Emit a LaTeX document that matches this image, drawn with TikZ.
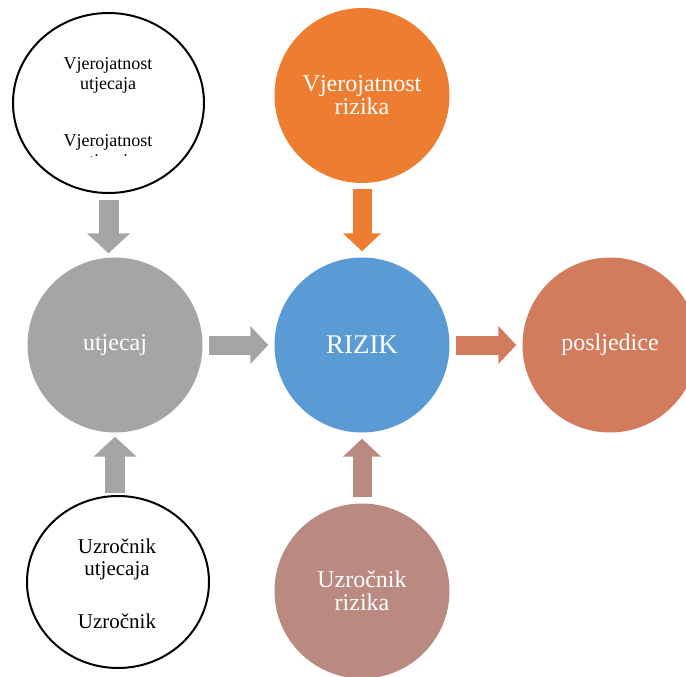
\documentclass[tikz,border=0pt]{standalone}
\usepackage{fontspec}
\setmainfont{Liberation Serif}
\usetikzlibrary{arrows.meta,shapes.geometric}

\definecolor{narancasta}{HTML}{ED7D31}
\definecolor{plava}{HTML}{5B9BD5}
\definecolor{siva}{HTML}{A5A5A5}
\definecolor{ciglasta}{HTML}{D37B5D}
\definecolor{ruzicasta}{HTML}{BA8A81}

\tikzset{
  krug/.style={circle, minimum size=175pt, inner sep=0pt, text=white,
    align=center, font=\fontsize{24}{23}\selectfont},
  bijeli/.style={ellipse, draw, line width=2pt, inner sep=0pt},
  strelica/.style={line width=19pt, shorten <=6pt, shorten >=6pt,
    -{Triangle[length=18pt,width=37pt]}},
}

\begin{document}
\begin{tikzpicture}[x=1pt, y=-1pt]
  \useasboundingbox (0,0) rectangle (686,677);
  \clip (0,0) rectangle (686,677);

  % Krugovi
  \node[bijeli, minimum width=191pt, minimum height=180pt] (vjutj) at (108.5,103) {};
  \node[krug, fill=narancasta] (vjriz) at (362,95.5) {Vjerojatnost\\rizika};
  \node[krug, fill=siva] (utj) at (115,345) {utjecaj};
  \node[krug, fill=plava, font=\fontsize{27}{27}\selectfont] (rizik) at (362,345) {RIZIK};
  \node[krug, fill=ciglasta] (posl) at (610,345) {posljedice};
  \node[bijeli, minimum width=182pt, minimum height=172pt] (uzutj) at (118,582) {};
  \node[krug, fill=ruzicasta] (uzriz) at (362,591) {Uzročnik\\rizika};

  % Tekst u bijelim krugovima
  \begin{scope}
    \clip (0,0) rectangle (686,156);
    \node[align=center, anchor=base, font=\fontsize{18}{20}\selectfont] (vjutjtxt) at (108,166)
      {Vjerojatnost\\utjecaja\\[37pt]Vjerojatnost\\utjecaja};
  \end{scope}
  \node[align=center, anchor=base, font=\fontsize{21}{22}\selectfont] (uzutjtxt) at (117,628)
    {Uzročnik\\utjecaja\\[31pt]Uzročnik};

  % Strelice
  \draw[strelica, siva, line width=20pt, shorten >=4pt, -{Triangle[length=20pt,width=42pt]}]
    (vjutj.south) -- (vjutj.south |- utj.north);
  \draw[strelica, siva, line width=20pt, shorten <=2pt, shorten >=4pt, -{Triangle[length=20pt,width=42pt]}]
    (utj.south |- uzutj.north) -- (utj.south);
  \draw[strelica, siva] (utj) -- (rizik);
  \draw[strelica, narancasta] (vjriz) -- (rizik);
  \draw[strelica, ciglasta] (rizik) -- (posl);
  \draw[strelica, ruzicasta] (uzriz) -- (rizik);

\end{tikzpicture}
\end{document}
